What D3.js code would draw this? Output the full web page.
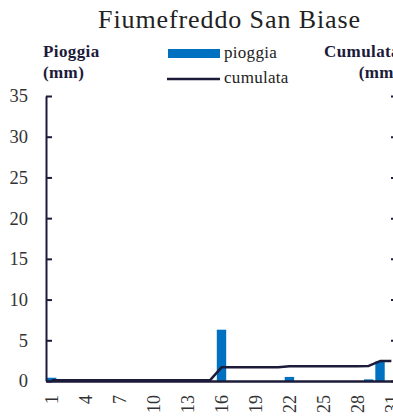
<!DOCTYPE html>
<html>
<head>
<meta charset="utf-8">
<script src="https://cdn.jsdelivr.net/npm/d3@7"></script>
<style>
  html, body { margin: 0; padding: 0; background: #fff; overflow: hidden; }
  svg { display: block; }
  text { font-family: "Liberation Serif", "Times New Roman", serif; }
</style>
</head>
<body>
<svg id="chart" width="393" height="417"></svg>
<script>
// ---- data ----
const days = d3.range(1, 32);
const rain = [0.4,0,0,0,0,0,0,0,0,0,0,0,0,0,0,6.3,0,0,0,0,0,0.5,0,0,0,0,0,0,0.2,2.4,0];
const cumulative = (() => { let s = 0; return rain.map(v => (s += v)); })();
const xTickLabels = [1,4,7,10,13,16,19,22,25,28,31];
const leftTicks = [0,5,10,15,20,25,30,35];
const rightTicks = [0,20,40,60,80,100,120,140];
const titleText = "Fiumefreddo San Biase";
const seriesNames = ["pioggia", "cumulata"];

// ---- layout ----
const svg = d3.select("#chart");
const m = { left: 46, right: 397, top: 96, bottom: 381 };
const navy = "#1c1b3a";
const blue = "#0070c0";

const x = d3.scaleBand().domain(days).range([m.left, m.right]).paddingInner(0.17).paddingOuter(0.085);
const y = d3.scaleLinear().domain([0, 35]).range([m.bottom, m.top]);
const y2 = d3.scaleLinear().domain([0, 140]).range([m.bottom, m.top]);

// title
svg.append("text").attr("x", 229.5).attr("y", 28).attr("text-anchor", "middle")
  .attr("font-size", 26).attr("letter-spacing", 0.9).attr("fill", "#222").text(titleText);

// axis titles
const lab = (tx, ty, anchor, s) => svg.append("text").attr("x", tx).attr("y", ty).attr("text-anchor", anchor)
  .attr("font-size", 17).attr("font-weight", "bold").attr("letter-spacing", 0.4).attr("fill", "#1c1b3a").text(s);
lab(43, 57, "start", "Pioggia");
lab(43, 78, "start", "(mm)");
lab(400, 57, "end", "Cumulata");
lab(400, 78, "end", "(mm)");

// legend
const lg = svg.append("g");
lg.append("rect").attr("x", 168).attr("y", 49).attr("width", 52).attr("height", 9).attr("fill", blue);
lg.append("text").attr("x", 224).attr("y", 58).attr("font-size", 17).attr("letter-spacing", 0.3).attr("fill", "#222").text(seriesNames[0]);
lg.append("line").attr("x1", 167).attr("x2", 220).attr("y1", 79).attr("y2", 79)
  .attr("stroke", navy).attr("stroke-width", 2.5);
lg.append("text").attr("x", 224).attr("y", 83).attr("font-size", 17).attr("letter-spacing", 0.3).attr("fill", "#222").text(seriesNames[1]);

// bars
svg.append("g").selectAll("rect").data(days).join("rect")
  .attr("x", d => x(d)).attr("width", x.bandwidth())
  .attr("y", (d, i) => y(rain[i])).attr("height", (d, i) => y(0) - y(rain[i]))
  .attr("fill", blue);

// left axis
const gl = svg.append("g").attr("transform", `translate(${m.left},0)`)
  .call(d3.axisLeft(y).tickValues(leftTicks).tickSizeInner(-6).tickSizeOuter(0).tickPadding(18).tickFormat(d3.format("d")));
gl.select(".domain").attr("stroke", navy).attr("stroke-width", 2);
gl.selectAll(".tick line").attr("stroke", navy).attr("stroke-width", 2);
gl.selectAll(".tick text").attr("font-size", 18.5).attr("fill", "#333").attr("font-family", "Liberation Serif, serif");

// right axis (its line and labels fall outside the view, only inner ticks show)
const gr = svg.append("g").attr("transform", `translate(${m.right},0)`)
  .call(d3.axisRight(y2).tickValues(rightTicks).tickSizeInner(-6).tickSizeOuter(0).tickFormat(""));
gr.select(".domain").attr("stroke", navy).attr("stroke-width", 2);
gr.selectAll(".tick line").attr("stroke", navy).attr("stroke-width", 2);

// x axis
const gx = svg.append("g").attr("transform", `translate(0,${m.bottom})`)
  .call(d3.axisBottom(x).tickValues(xTickLabels).tickSize(0).tickPadding(0));
gx.select(".domain").attr("stroke", navy).attr("stroke-width", 2.5);
gx.selectAll(".tick text")
  .attr("font-size", 18).attr("fill", "#333").attr("font-family", "Liberation Serif, serif")
  .attr("transform", "translate(0,14) rotate(-90)")
  .attr("text-anchor", "end").attr("x", 0).attr("y", 0).attr("dy", "0.35em");

// cumulative line
const line = d3.line().x((d, i) => x(days[i]) + x.bandwidth() / 2).y(d => y2(d));
svg.append("path").datum(cumulative).attr("d", line)
  .attr("fill", "none").attr("stroke", navy).attr("stroke-width", 2.5).attr("stroke-linejoin", "round");
</script>
</body>
</html>
